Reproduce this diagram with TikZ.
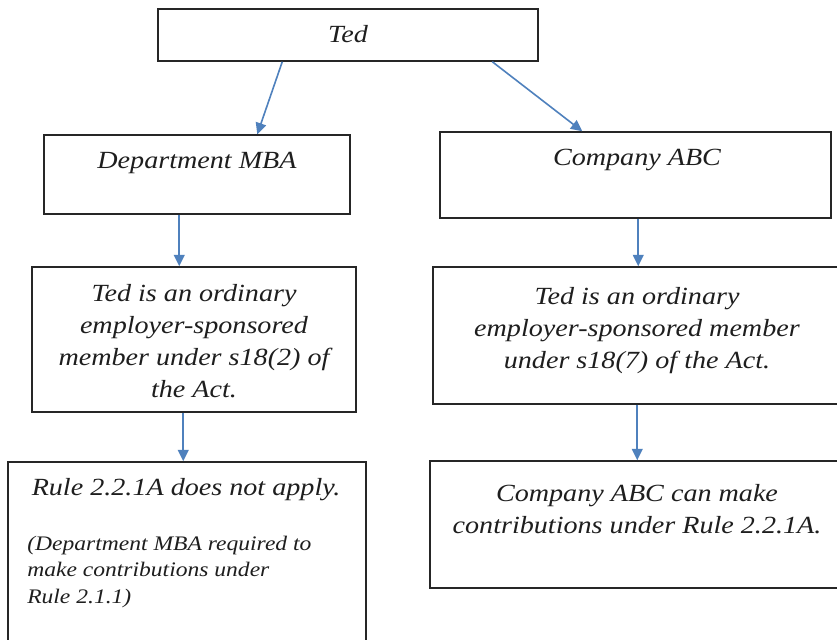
\documentclass[tikz,border=0pt]{standalone}
\usepackage{fontspec}
\setmainfont{Liberation Serif}[FakeStretch=1.14]
\usetikzlibrary{arrows.meta,fit,calc}
\definecolor{arrblue}{RGB}{79,129,189}
\definecolor{ink}{RGB}{30,30,30}
\begin{document}
\begin{tikzpicture}[x=0.75pt,y=-0.75pt,
  box/.style={draw=black!85,line width=1.1pt,inner sep=0pt},
  arr/.style={draw=arrblue,line width=1.2pt,-{Triangle[length=8.5pt,width=8pt]}},
  txt/.style={font=\itshape\fontsize{18.5}{24}\selectfont,text=ink,inner sep=0pt,align=center},
  small/.style={font=\itshape\fontsize{15.5}{19.8}\selectfont,text=ink,inner sep=0pt,align=left}]
\useasboundingbox (0,0) rectangle (837,639);
\fill[white] (0,0) rectangle (837,639);
% boxes
\node[box,fit={(158,9)(538,61)}] (ted) {};
\node[box,fit={(44,135)(350,214)}] (dept) {};
\node[box,fit={(440,132)(831,218)}] (comp) {};
\node[box,fit={(32,267)(356,412)}] (lm) {};
\node[box,fit={(433,267)(850,404)}] (rm) {};
\node[box,fit={(8,462)(366,650)}] (lb) {};
\node[box,fit={(430,461)(850,588)}] (rb) {};
% texts
\node[txt,anchor=base] (tedt) at (348,42) {Ted};
\node[txt,anchor=base] (deptt) at (197,168) {Department MBA};
\node[txt,anchor=base] (compt) at (637,165) {Company ABC};
\node[txt,anchor=base] (lmt) at (194,397) {Ted is an ordinary\\employer-sponsored\\member under s18(2) of\\the Act.};
\node[txt,anchor=base] (rmt) at (637,368) {Ted is an ordinary\\employer-sponsored member\\under s18(7) of the Act.};
\node[txt,anchor=base] (lbt) at (186,495) {Rule 2.2.1A does not apply.};
\node[small,anchor=base west] (lbs) at (27,603) {(Department MBA required to\\make contributions under\\Rule 2.1.1)};
\node[txt,anchor=base] (rbt) at (637,533) {Company ABC can make\\contributions under Rule 2.2.1A.};
% arrows
\draw[arr] ($(ted.south west)+(125,0)$) -- ($(dept.north west)+(214,0)$);
\draw[arr] ($(ted.south west)+(335,0)$) -- ($(comp.north west)+(143,0)$);
\draw[arr] ($(dept.south west)+(136,0)$) -- ($(lm.north west)+(148,0)$);
\draw[arr] ($(comp.south west)+(199,0)$) -- ($(rm.north west)+(206,0)$);
\draw[arr] ($(lm.south west)+(152,0)$) -- ($(lb.north west)+(176,0)$);
\draw[arr] ($(rm.south west)+(205,0)$) -- ($(rb.north west)+(208,0)$);
\end{tikzpicture}
\end{document}
